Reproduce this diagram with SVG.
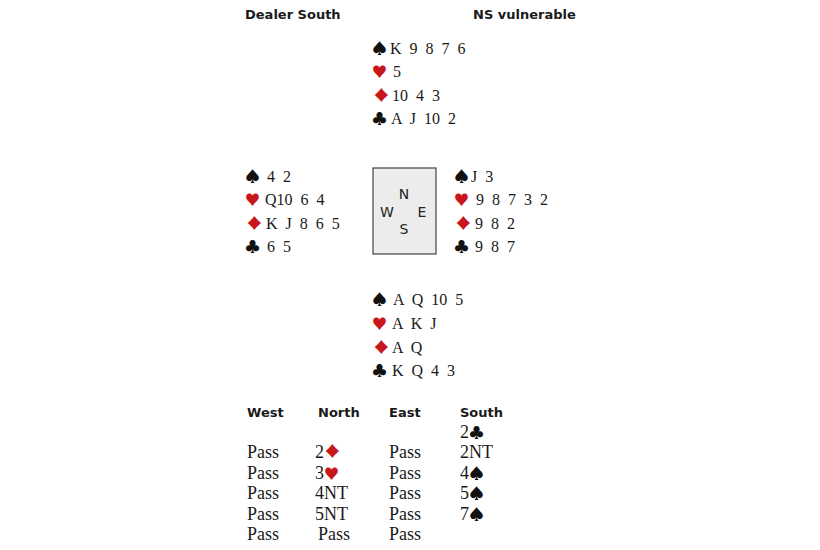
<svg xmlns="http://www.w3.org/2000/svg" width="820" height="550" viewBox="0 0 820 550">
<style>
.hd{font-family:"DejaVu Sans","Liberation Sans",sans-serif;font-weight:bold;font-size:13px;fill:#1a1a1a}
.c{font-family:"Liberation Serif","Times New Roman",serif;font-size:16px;fill:#1a1a1a;word-spacing:4px}
.au{font-family:"Liberation Serif","Times New Roman",serif;font-size:18px;fill:#1a1a1a}
.s{font-family:"Noto Sans CJK JP","DejaVu Sans",sans-serif;font-size:15px;fill:#111}
.r{font-family:"Noto Sans CJK JP","DejaVu Sans",sans-serif;font-size:15px;fill:#c8161d}
.as{font-family:"Noto Sans CJK JP","DejaVu Sans",sans-serif;font-size:15px;fill:#111}
.ar{font-family:"Noto Sans CJK JP","DejaVu Sans",sans-serif;font-size:15px;fill:#c8161d}
.cp{font-family:"DejaVu Sans","Liberation Sans",sans-serif;font-size:14px;fill:#222;text-anchor:middle}
</style>
<rect width="820" height="550" fill="#ffffff"/>
<g id="header">
<text class="hd" x="245" y="19">Dealer South</text>
<text class="hd" x="473" y="19">NS vulnerable</text>
</g>
<g id="north">
<text class="s" x="372" y="54">♠</text><text class="c" x="390" y="54">K 9 8 7 6</text>
<text class="r" x="372" y="77">♥</text><text class="c" x="393" y="77">5</text>
<text class="r" transform="translate(372,101) scale(1.25,1)">♦</text><text class="c" x="392" y="101" word-spacing="0">10 4  3</text>
<text class="s" x="372" y="124">♣</text><text class="c" x="391" y="124" word-spacing="0">A J 10 2</text>
</g>
<g id="west">
<text class="s" x="245" y="182">♠</text><text class="c" x="267" y="182">4 2</text>
<text class="r" x="245" y="205">♥</text><text class="c" x="265" y="205">Q10 6 4</text>
<text class="r" transform="translate(245,229) scale(1.25,1)">♦</text><text class="c" x="266" y="229">K J 8 6 5</text>
<text class="s" x="245" y="252">♣</text><text class="c" x="267" y="252">6 5</text>
</g>
<g id="compass">
<rect x="373" y="168" width="63" height="86" fill="#ececec" stroke="#444" stroke-width="1.2"/>
<text class="cp" x="404" y="199">N</text>
<text class="cp" x="387" y="217">W</text>
<text class="cp" x="422" y="217">E</text>
<text class="cp" x="404" y="234">S</text>
</g>
<g id="east">
<text class="s" x="454" y="182">♠</text><text class="c" x="471" y="182" word-spacing="0">J 3</text>
<text class="r" x="454" y="205">♥</text><text class="c" x="476" y="205">9 8 7 3 2</text>
<text class="r" transform="translate(454,229) scale(1.25,1)">♦</text><text class="c" x="475" y="229">9 8 2</text>
<text class="s" x="454" y="252">♣</text><text class="c" x="475" y="252">9 8 7</text>
</g>
<g id="south">
<text class="s" x="372" y="305">♠</text><text class="c" x="393" y="305" word-spacing="0">A Q 10 5</text>
<text class="r" x="372" y="329">♥</text><text class="c" x="392" y="329" word-spacing="0">A K  J</text>
<text class="r" transform="translate(372,353) scale(1.25,1)">♦</text><text class="c" x="392" y="353" word-spacing="0">A Q</text>
<text class="s" x="372" y="376">♣</text><text class="c" x="392" y="376">K Q 4 3</text>
</g>
<g id="auction">
<text class="hd" x="247" y="417">West</text>
<text class="hd" x="318" y="417">North</text>
<text class="hd" x="389" y="417">East</text>
<text class="hd" x="460" y="417">South</text>
<text class="au" x="460" y="438">2<tspan class="as">♣</tspan></text>
<text class="au" x="247" y="458">Pass</text><text class="au" x="315" y="458">2</text><text class="ar" transform="translate(323,457) scale(1.25,1)">♦</text><text class="au" x="389" y="458">Pass</text><text class="au" x="460" y="458">2NT</text>
<text class="au" x="247" y="479">Pass</text><text class="au" x="315" y="479">3<tspan class="ar">♥</tspan></text><text class="au" x="389" y="479">Pass</text><text class="au" x="460" y="479">4<tspan class="as">♠</tspan></text>
<text class="au" x="247" y="499">Pass</text><text class="au" x="315" y="499">4NT</text><text class="au" x="389" y="499">Pass</text><text class="au" x="460" y="499">5<tspan class="as">♠</tspan></text>
<text class="au" x="247" y="520">Pass</text><text class="au" x="315" y="520">5NT</text><text class="au" x="389" y="520">Pass</text><text class="au" x="460" y="520">7<tspan class="as">♠</tspan></text>
<text class="au" x="247" y="540">Pass</text><text class="au" x="318" y="540">Pass</text><text class="au" x="389" y="540">Pass</text>
</g>
</svg>
